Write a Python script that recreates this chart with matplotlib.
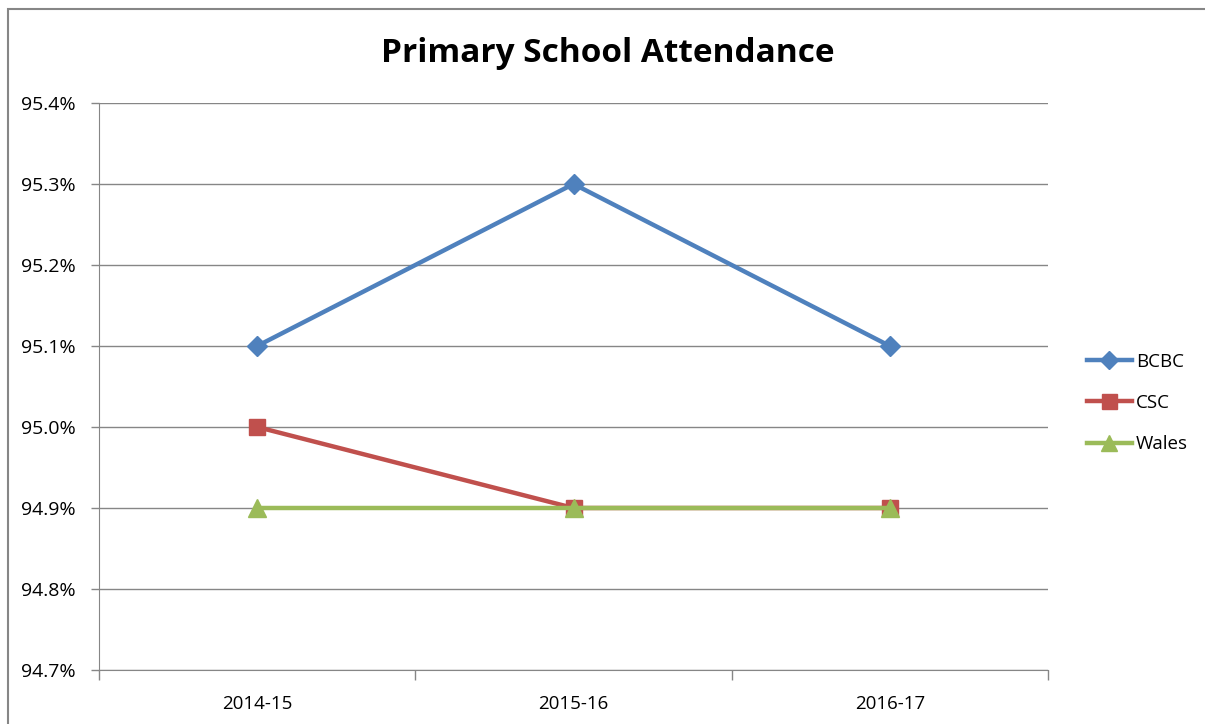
import matplotlib
matplotlib.use("Agg")
import matplotlib.pyplot as plt
from matplotlib.patches import Rectangle
from matplotlib.ticker import FuncFormatter, FixedLocator

categories = ["2014-15", "2015-16", "2016-17"]
bcbc = [95.1, 95.3, 95.1]
csc = [95.0, 94.9, 94.9]
wales = [94.9, 94.9, 94.9]
yticks = [94.7, 94.8, 94.9, 95.0, 95.1, 95.2, 95.3, 95.4]

plt.rcParams['font.family'] = ['Open Sans', 'DejaVu Sans']

W, H = 1205, 724
fig = plt.figure(figsize=(W / 100, H / 100), dpi=100)
ax = fig.add_axes([99 / W, 1 - 670 / H, (1048 - 99) / W, (670 - 103) / H])

x = list(range(len(categories)))
ax.plot(x, bcbc, color="#4F81BD", lw=3.2, marker="D", ms=10.5, label="BCBC", zorder=3)
ax.plot(x, csc, color="#C0504D", lw=3.2, marker="s", ms=12, label="CSC", zorder=3)
ax.plot(x, wales, color="#9BBB59", lw=3.2, marker="^", ms=13, label="Wales", zorder=4)

ax.set_xlim(-0.5, len(categories) - 0.5)
ax.set_ylim(94.7, 95.4)
ax.yaxis.set_major_locator(FixedLocator(yticks))
ax.yaxis.set_major_formatter(FuncFormatter(lambda v, p: f"{v:.1f}%"))
ax.grid(axis="y", color="#868686", lw=1)
ax.set_axisbelow(True)

ax.set_xticks(x)
ax.set_xticklabels(categories)
ax.xaxis.set_minor_locator(FixedLocator([i - 0.5 for i in range(len(categories) + 1)]))
ax.tick_params(axis="x", which="major", length=0, pad=18, labelsize=13.5, colors="#000000")
ax.tick_params(axis="x", which="minor", length=7, color="#868686", width=1)
ax.tick_params(axis="y", length=6, color="#868686", width=1, pad=11, labelsize=14)

for s in ["top", "right"]:
    ax.spines[s].set_visible(False)
for s in ["left", "bottom"]:
    ax.spines[s].set_color("#868686")

fig.text(608 / W, 1 - 53 / H, "Primary School Attendance", ha="center", va="center",
         fontsize=24, fontweight="bold")

leg = ax.legend(loc="center left", bbox_to_anchor=(1070 / W, 1 - 403 / H),
                bbox_transform=fig.transFigure, frameon=False, fontsize=13.5,
                handlelength=2.4, handletextpad=0.2, labelspacing=1.25, markerscale=0.9)

fig.patches.append(Rectangle((8 / W, -0.01), 1.05, 1 - 9 / H + 0.01,
                             transform=fig.transFigure, fill=False,
                             edgecolor="#868686", lw=1.5))

fig.savefig("out.png", dpi=100)
